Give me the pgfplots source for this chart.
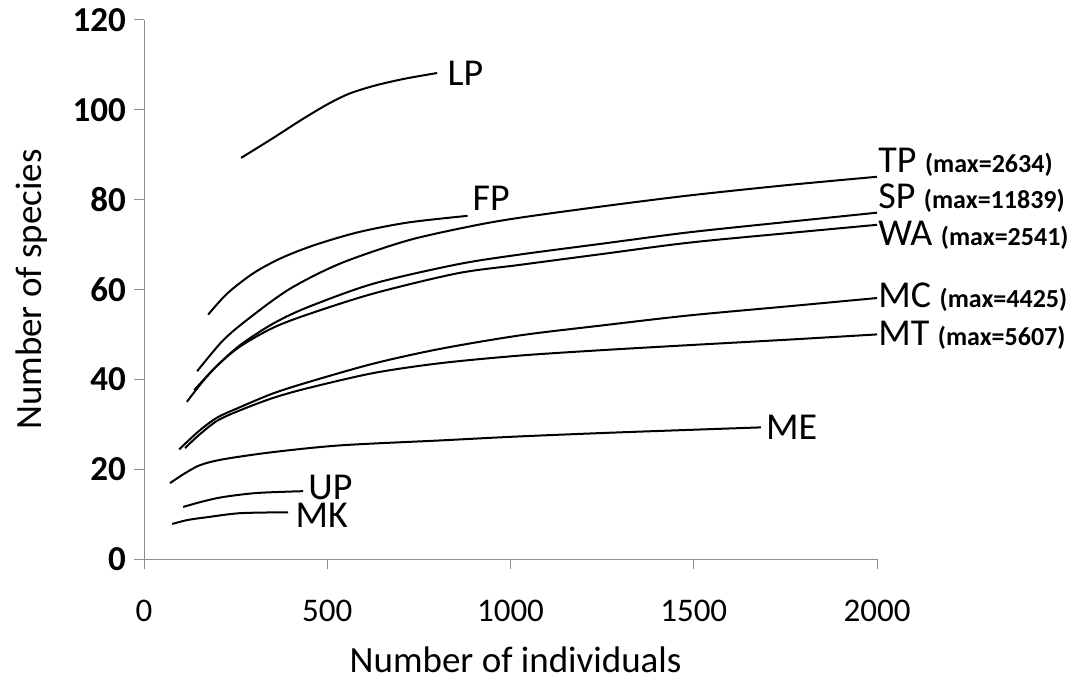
\documentclass[border=0pt]{standalone}
\usepackage{pgfplots}
\pgfplotsset{compat=1.18}
\usepackage{fontspec}
\setmainfont{Carlito}
\definecolor{axgray}{HTML}{8C8C8C}
\begin{document}
\begin{tikzpicture}[x=1pt,y=1pt]
\path[use as bounding box] (0,0) rectangle (1070,680);
\begin{axis}[
  at={(144pt,121pt)}, anchor=south west,
  scale only axis, width=733pt, height=539pt,
  xmin=0, xmax=2000, ymin=0, ymax=120,
  axis lines=left, axis line style={-, draw=axgray, line width=1pt},
  tick style={draw=axgray, line width=1pt},
  tick align=outside, major tick length=10pt,
  xtick={0,500,1000,1500,2000},
  ytick={0,20,40,60,80,100,120},
  /pgf/number format/assume math mode=true,
  /pgf/number format/1000 sep={},
  scaled ticks=false,
  xticklabel style={font=\fontsize{33}{36}\selectfont, anchor=north, inner sep=0pt, yshift=-31pt},
  yticklabel style={font=\fontsize{35}{38}\selectfont\bfseries, anchor=east, inner sep=0pt, xshift=-8pt},
  xlabel={Number of individuals},
  ylabel={Number of species},
  every axis x label/.style={at={(axis cs:1014,0)}, anchor=base, yshift=-113pt, font=\fontsize{37}{40}\selectfont},
  every axis y label/.style={at={(axis description cs:-0.153,0.5)}, anchor=center, rotate=90, font=\fontsize{37}{40}\selectfont},
  cycle list={{black, solid, line width=2pt}},
  no markers,
  clip=false,
]
\pgfplotsset{curve/.style={black, solid, line width=2pt, smooth, tension=0.5, mark=none}}
% LP
\addplot[curve] coordinates {(265,89.3) (350,93.6) (430,97.8) (500,101.2) (560,103.6) (630,105.4) (710,106.9) (800,108.2)};
% FP
\addplot[curve] coordinates {(175,54.4) (227,59.1) (298,63.6) (372,66.9) (462,69.8) (582,72.7) (719,74.9) (883,76.4)};
% TP
\addplot[curve] coordinates {(145,41.8) (216,48.7) (290,53.8) (399,60.2) (536,65.8) (719,70.9) (899,74.2) (1027,76.0) (1250,78.5) (1484,80.9) (1750,83.2) (2000,85.1)};
% SP
\addplot[curve] coordinates {(117,35) (160,39.5) (199,43) (262,47.6) (350,52.3) (445,56) (626,61.3) (855,65.6) (1027,67.8) (1250,70.2) (1484,72.7) (1750,75) (2000,77.1)};
% WA
\addplot[curve] coordinates {(137,37.6) (199,43) (262,47.3) (350,51.4) (445,54.4) (626,59.1) (855,63.6) (1027,65.5) (1250,67.9) (1484,70.4) (1750,72.5) (2000,74.4)};
% MC
\addplot[curve] coordinates {(96,24.4) (150,28.5) (200,31.5) (262,33.8) (350,36.8) (445,39.3) (626,43.5) (809,46.8) (1027,49.8) (1250,52) (1484,54.2) (1750,56.2) (2000,58.1)};
% MT
\addplot[curve] coordinates {(112,24.7) (150,27.6) (200,30.8) (262,33.1) (350,35.8) (445,38) (626,41.4) (809,43.6) (1027,45.3) (1250,46.5) (1484,47.6) (1750,48.8) (2000,50)};
% ME
\addplot[curve] coordinates {(71,16.9) (110,19) (153,20.9) (216,22.2) (352,23.8) (536,25.3) (809,26.4) (1027,27.3) (1300,28.2) (1683,29.3)};
% UP
\addplot[curve] coordinates {(107,11.6) (160,12.8) (216,13.8) (309,14.7) (434,15.1)};
% MK
\addplot[curve] coordinates {(77,7.8) (120,8.7) (172,9.3) (262,10.2) (393,10.4)};

\tikzset{lab/.style={anchor=west, inner sep=0pt, font=\fontsize{38}{40}\selectfont}}
\newcommand{\mx}[1]{{\fontsize{26}{28}\selectfont\bfseries (max=#1)}}
\node[lab] at (axis cs:828,108.2) {LP};
\node[lab] at (axis cs:896,80.4) {FP};
\node[lab] at (axis cs:2003,88.4) {TP \mx{2634}};
\node[lab] at (axis cs:2003,80.4) {SP \mx{11839}};
\node[lab] at (axis cs:2003,72.0) {WA \mx{2541}};
\node[lab] at (axis cs:2003,58.2) {MC \mx{4425}};
\node[lab] at (axis cs:2003,49.8) {MT \mx{5607}};
\node[lab] at (axis cs:1697,29.3) {ME};
\node[lab] at (axis cs:448,15.9) {UP};
\node[lab] at (axis cs:413,9.8) {MK};
\end{axis}
\end{tikzpicture}
\end{document}
